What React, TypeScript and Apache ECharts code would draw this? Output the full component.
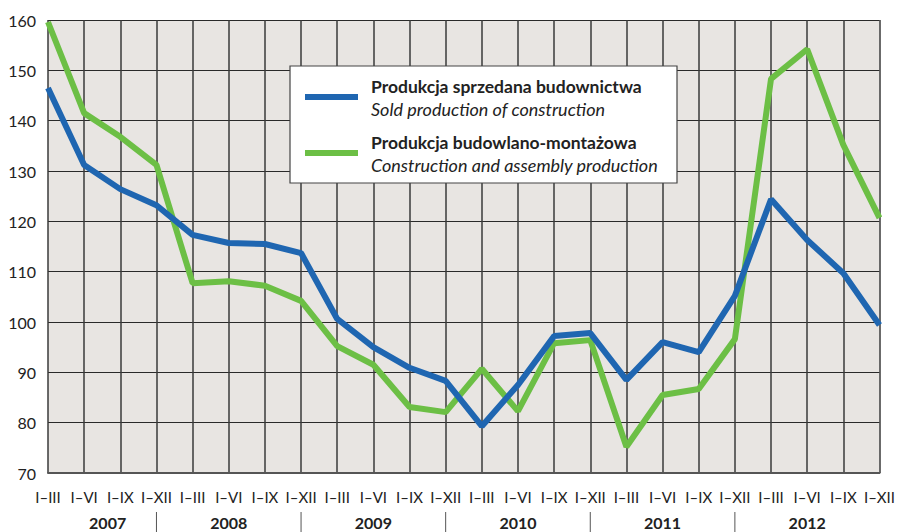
import React, { useEffect, useRef } from "react";
import * as echarts from "echarts";

const periods = ["I–III", "I–VI", "I–IX", "I–XII"];
const years = ["2007", "2008", "2009", "2010", "2011", "2012"];
const categories = years.flatMap(() => periods);

const soldProduction = [
  146.5, 131.2, 126.4, 123.2,
  117.3, 115.7, 115.5, 113.7,
  100.6, 95.0, 90.9, 88.3,
  79.3, 87.5, 97.2, 97.8,
  88.5, 96.0, 94.0, 105.2,
  124.4, 116.3, 109.7, 99.4,
];
const assemblyProduction = [
  159.6, 141.5, 136.8, 131.2,
  107.7, 108.1, 107.2, 104.2,
  95.2, 91.5, 83.1, 82.1,
  90.7, 82.3, 95.8, 96.4,
  75.2, 85.5, 86.7, 96.6,
  148.3, 154.2, 135.2, 120.7,
];

const seriesNamesPL = ["Produkcja sprzedana budownictwa", "Produkcja budowlano-montażowa"];
const seriesNamesEN = ["Sold production of construction", "Construction and assembly production"];
const colors = ["#1f66b1", "#6cbf45"];

const FONT = "Lato";

export default function App() {
  const ref = useRef<HTMLDivElement>(null);
  useEffect(() => {
    if (!ref.current) return;
    const chart = echarts.init(ref.current, undefined, { renderer: "svg" });
    const grid = { left: 48, right: 18, top: 20, bottom: 59 };
    chart.setOption({
      animation: false,
      grid: { ...grid, show: true, backgroundColor: "#e8e5e2", borderWidth: 0 },
      xAxis: {
        type: "category",
        data: categories,
        boundaryGap: false,
        axisLine: { show: true, lineStyle: { color: "#555", width: 2 } },
        axisTick: { show: false },
        axisLabel: { interval: 0, margin: 16, fontFamily: FONT, fontSize: 15, color: "#222" },
        splitLine: { show: true, lineStyle: { color: "#3a3a3a", width: 1.5 } },
      },
      yAxis: {
        type: "value",
        min: 70,
        max: 160,
        interval: 10,
        axisLine: { show: false },
        axisTick: { show: false },
        axisLabel: { margin: 12, fontFamily: FONT, fontSize: 16, color: "#222" },
        splitLine: { show: true, lineStyle: { color: "#2a2a2a", width: 1 } },
      },
      series: [
        {
          name: seriesNamesPL[0],
          type: "line",
          data: soldProduction,
          symbol: "none",
          lineStyle: { color: colors[0], width: 6 },
          z: 3,
        },
        {
          name: seriesNamesPL[1],
          type: "line",
          data: assemblyProduction,
          symbol: "none",
          lineStyle: { color: colors[1], width: 6 },
          z: 2,
        },
      ],
    });

    const px = (i: number) => chart.convertToPixel({ xAxisIndex: 0 }, i) as number;
    const graphic: any[] = [];
    years.forEach((y, k) => {
      const center = k === 0 ? px(0) + (px(1) - px(0)) * 1.65 : px(4 * k + 1);
      graphic.push({
        type: "text",
        x: center,
        y: 522,
        style: { text: y, font: `bold 16px ${FONT}`, fill: "#222", align: "center", verticalAlign: "middle" },
      });
      if (k < years.length - 1) {
        const sx = px(4 * k + 3);
        graphic.push({
          type: "line",
          shape: { x1: sx, y1: 512, x2: sx, y2: 532 },
          style: { stroke: "#555", lineWidth: 1 },
        });
      }
    });
    const lx = 290, ly = 66, lw = 387, lh = 117;
    graphic.push({
      type: "rect",
      shape: { x: lx, y: ly, width: lw, height: lh },
      style: { fill: "#ffffff", stroke: "#444", lineWidth: 1.2 },
      z: 10,
    });
    [0, 1].forEach((s) => {
      const cy = s === 0 ? 97 : 153;
      graphic.push({
        type: "line",
        shape: { x1: 305, y1: cy, x2: 358, y2: cy },
        style: { stroke: colors[s], lineWidth: 6 },
        z: 11,
      });
      graphic.push({
        type: "text",
        x: 371,
        y: cy - 11,
        style: { text: seriesNamesPL[s], font: `bold 17.5px ${FONT}`, fill: "#222", verticalAlign: "middle" },
        z: 11,
      });
      graphic.push({
        type: "text",
        x: 371,
        y: cy + 12,
        style: { text: seriesNamesEN[s], font: `italic 18px ${FONT}`, fill: "#222", verticalAlign: "middle" },
        z: 11,
      });
    });
    chart.setOption({ graphic });

    return () => chart.dispose();
  }, []);
  return <div ref={ref} style={{ width: 898, height: 532, position: "absolute", left: 0, top: 0 }} />;
}
